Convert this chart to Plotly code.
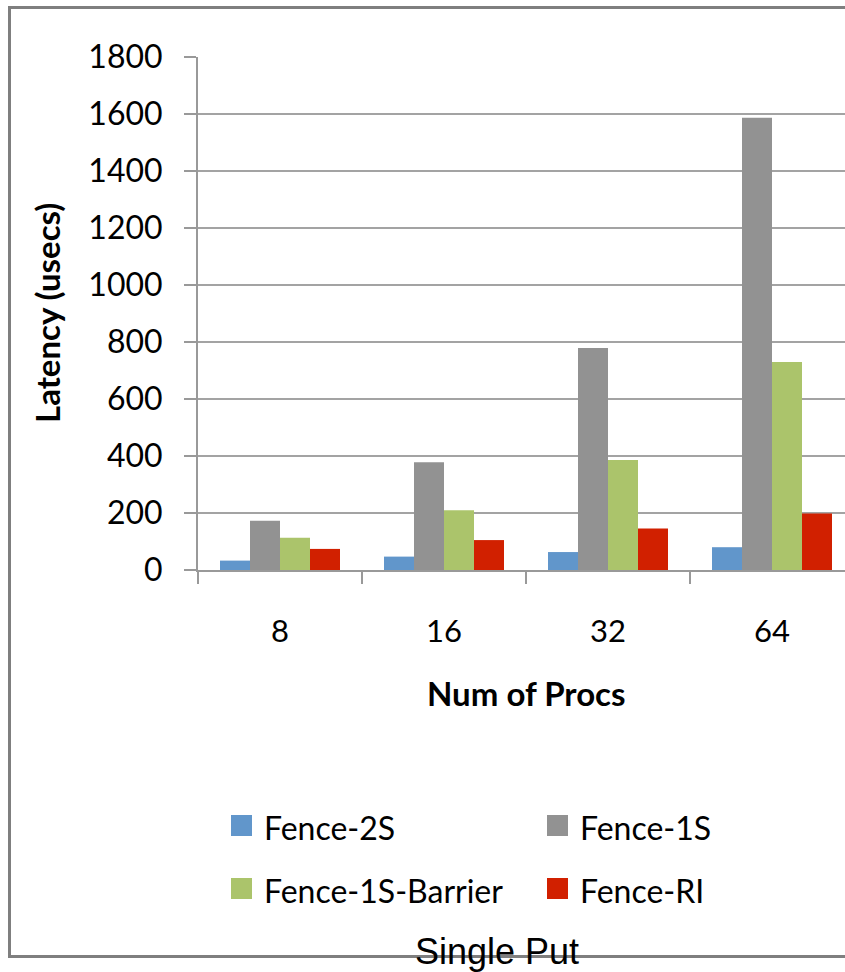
import plotly.graph_objects as go

# Latency of a single put, per number of processes
procs = ["8", "16", "32", "64"]
fence_2s = [33, 47, 63, 80]
fence_1s = [173, 378, 779, 1587]
fence_1s_barrier = [113, 210, 386, 730]
fence_ri = [74, 105, 146, 198]
y_ticks = [0, 200, 400, 600, 800, 1000, 1200, 1400, 1600, 1800]
series_names = ["Fence-2S", "Fence-1S", "Fence-1S-Barrier", "Fence-RI"]
series_values = [fence_2s, fence_1s, fence_1s_barrier, fence_ri]
series_colors = ["#6196CB", "#929292", "#ABC46B", "#D12000"]

W, H = 845, 972
L, R, T, B = 198, 845, 57, 570          # plot area in pixels
CAT_W = 164                              # pixel width of one category


def px_x(x):
    return (x - L) / (R - L)


def px_y(y):
    return (B - y) / (B - T)


fig = go.Figure()
for name, vals, color in zip(series_names, series_values, series_colors):
    fig.add_trace(go.Bar(
        x=procs, y=vals, name=name, showlegend=False,
        marker=dict(color=color, line=dict(width=0)),
    ))

axis_gray = "#999999"
lato = "Lato, Noto Sans, sans-serif"

fig.update_layout(
    width=W, height=H,
    margin=dict(l=L, r=W - R, t=T, b=H - B, pad=0),
    paper_bgcolor="white", plot_bgcolor="white",
    barmode="group", bargap=44 / CAT_W, bargroupgap=0,
    xaxis=dict(
        type="category", range=[-0.5, -0.5 + (R - L) / CAT_W],
        showline=True, linecolor=axis_gray, linewidth=2,
        ticks="outside", tickson="boundaries", ticklen=12, tickwidth=2,
        tickcolor=axis_gray, showgrid=False, zeroline=False,
        tickfont=dict(family=lato, size=31, color="black"), ticklabelstandoff=33,
    ),
    yaxis=dict(
        range=[0, 1800], tickvals=y_ticks,
        showline=True, linecolor=axis_gray, linewidth=2,
        ticks="outside", ticklen=12, tickwidth=2, tickcolor=axis_gray,
        showgrid=True, gridcolor="#a3a3a3", gridwidth=2, zeroline=False,
        tickfont=dict(family=lato, size=32, color="black"), ticklabelstandoff=15,
    ),
)

# outer chart frame
fig.add_shape(type="rect", xref="paper", yref="paper",
              x0=px_x(9.5), x1=px_x(900), y0=px_y(956.5), y1=px_y(7.5),
              line=dict(color="#7f7f7f", width=3), fillcolor="rgba(0,0,0,0)",
              layer="below")

# legend: two columns, two rows of square swatches with labels
legend_cols = [231, 547]
legend_rows = [815, 878]
SW = 21
for i, (name, color) in enumerate(zip(series_names, series_colors)):
    x0 = legend_cols[i % 2]
    y0 = legend_rows[i // 2]
    fig.add_shape(type="rect", xref="paper", yref="paper",
                  x0=px_x(x0), x1=px_x(x0 + SW), y0=px_y(y0 + SW), y1=px_y(y0),
                  line=dict(width=0), fillcolor=color)
    fig.add_annotation(text=name, xref="paper", yref="paper",
                       x=px_x(x0 + SW + 10), y=px_y(y0 + 12),
                       showarrow=False, xanchor="left", yanchor="middle",
                       font=dict(family=lato, size=32, color="black"))

fig.add_annotation(text="<b>Latency (usecs)</b>", textangle=-90,
                   xref="paper", yref="paper", x=px_x(47), y=px_y(313),
                   showarrow=False, xanchor="center", yanchor="middle",
                   font=dict(family=lato, size=33, color="black"))
fig.add_annotation(text="<b>Num of Procs</b>",
                   xref="paper", yref="paper", x=px_x(526), y=px_y(693),
                   showarrow=False, xanchor="center", yanchor="middle",
                   font=dict(family=lato, size=33, color="black"))
fig.add_annotation(text="Single Put",
                   xref="paper", yref="paper", x=px_x(497), y=px_y(951),
                   showarrow=False, xanchor="center", yanchor="middle",
                   font=dict(family="Liberation Sans, Arial, sans-serif",
                             size=36, color="black"))

fig.write_html("out.html")
